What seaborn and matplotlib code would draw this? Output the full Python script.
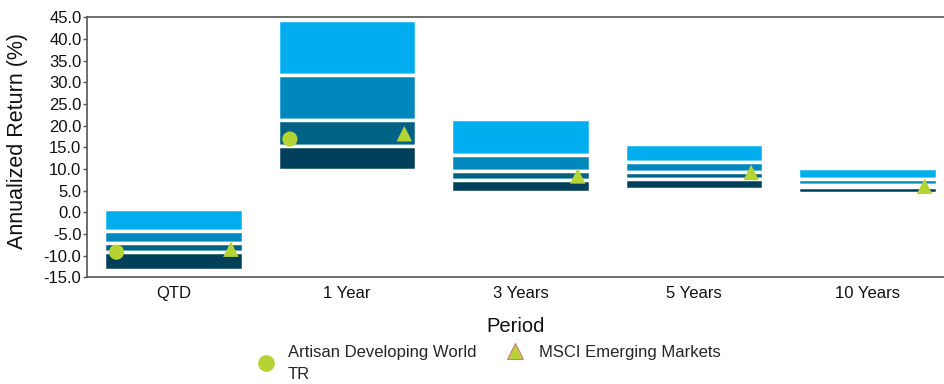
import numpy as np
import pandas as pd
import matplotlib
matplotlib.use("Agg")
import matplotlib.pyplot as plt
from matplotlib.lines import Line2D
import seaborn as sns

# ---- data ----
periods = ["QTD", "1 Year", "3 Years", "5 Years", "10 Years"]
p05 = [0.85, 44.3, 21.55, 15.85, 10.25]
p25 = [-4.2, 31.65, 13.15, 11.5, 7.7]
p50 = [-7.05, 21.25, 9.55, 9.2, 6.3]
p75 = [-9.1, 15.25, 7.5, 7.8, 5.9]
p95 = [-13.35, 9.65, 4.75, 5.35, 4.55]
artisan = [-9.2, 16.9, np.nan, np.nan, np.nan]
msci = [-8.5, 18.15, 8.4, 9.2, 6.0]
yticks = [45.0, 40.0, 35.0, 30.0, 25.0, 20.0, 15.0, 10.0, 5.0, 0.0, -5.0, -10.0, -15.0]
legend_labels = ["Artisan Developing World\nTR", "MSCI Emerging Markets"]

seg_colors = ["#00ADEE", "#0088BE", "#006386", "#003F5A"]
marker_color = "#B5D334"

sns.set_theme(style="white")
plt.rcParams["font.family"] = ["Liberation Sans", "DejaVu Sans"]

W, H = 945, 384
fig = plt.figure(figsize=(W / 100, H / 100), dpi=100)
ax = fig.add_axes([87 / W, 1 - 277.3 / H, (W - 87) / W, (277.3 - 17.3) / H])

x = np.arange(len(periods))
bounds = [p05, p25, p50, p75, p95]
for i in range(4):
    top = np.array(bounds[i])
    bot = np.array(bounds[i + 1])
    ax.bar(x, top - bot, bottom=bot, width=0.8, color=seg_colors[i],
           edgecolor="white", linewidth=2.5, zorder=2)

off = 0.33
df_a = pd.DataFrame({"x": x - off, "y": artisan}).dropna()
df_m = pd.DataFrame({"x": x + off, "y": msci}).dropna()
sns.scatterplot(data=df_a, x="x", y="y", ax=ax, marker="o", s=120,
                color=marker_color, edgecolor="none", zorder=4, legend=False)
sns.scatterplot(data=df_m, x="x", y="y", ax=ax, marker="^", s=125,
                color=marker_color, edgecolor="none", zorder=4, legend=False)

ax.set_xlim(-0.5, -0.5 + 858 / 173.4)
ax.set_ylim(-15, 45)
ax.set_xticks(x)
ax.set_xticklabels(periods, fontsize=12, color="#111111")
ax.set_yticks(yticks)
ax.set_yticklabels([f"{v:.1f}" for v in yticks], fontsize=12, color="#111111")
ax.set_yticks(yticks, minor=True)
ax.tick_params(axis="y", which="major", direction="out", length=3, width=1,
               color="#555555", pad=1, left=True)
ax.tick_params(axis="y", which="minor", direction="in", length=7, width=1,
               color="#555555", left=True)
ax.tick_params(axis="x", length=0, pad=6)

for side in ["left", "bottom", "top"]:
    ax.spines[side].set_visible(True)
    ax.spines[side].set_color("#555555")
    ax.spines[side].set_linewidth(1.2)
ax.spines["right"].set_visible(False)

ax.set_xlabel("Period", fontsize=14.5, color="#111111", labelpad=12)
ax.set_ylabel("Annualized Return (%)", fontsize=15.5, color="#111111")
ax.yaxis.set_label_coords((28 - 87) / 858, (277.3 - 141) / 260)
ax.grid(False)

h_circle = Line2D([], [], linestyle="none", marker="o", markersize=11,
                  markerfacecolor=marker_color, markeredgecolor=marker_color)
h_tri = Line2D([], [], linestyle="none", marker="^", markersize=11,
               markerfacecolor=marker_color, markeredgecolor="#D07A80",
               markeredgewidth=0.8)

top_y = 1 - 345 / H
leg1 = fig.legend([h_circle], [legend_labels[0]], loc="upper left",
                  bbox_to_anchor=(257.7 / W, top_y), frameon=False, fontsize=12,
                  handlelength=1.0, handletextpad=0.82, borderpad=0,
                  borderaxespad=0)
for t in leg1.get_texts():
    t.set_linespacing(1.55)
leg2 = fig.legend([h_tri], [legend_labels[1]], loc="upper left",
                  bbox_to_anchor=(506.7 / W, top_y), frameon=False, fontsize=12,
                  handlelength=1.0, handletextpad=0.94, borderpad=0,
                  borderaxespad=0)

fig.savefig("out.png", dpi=100)
